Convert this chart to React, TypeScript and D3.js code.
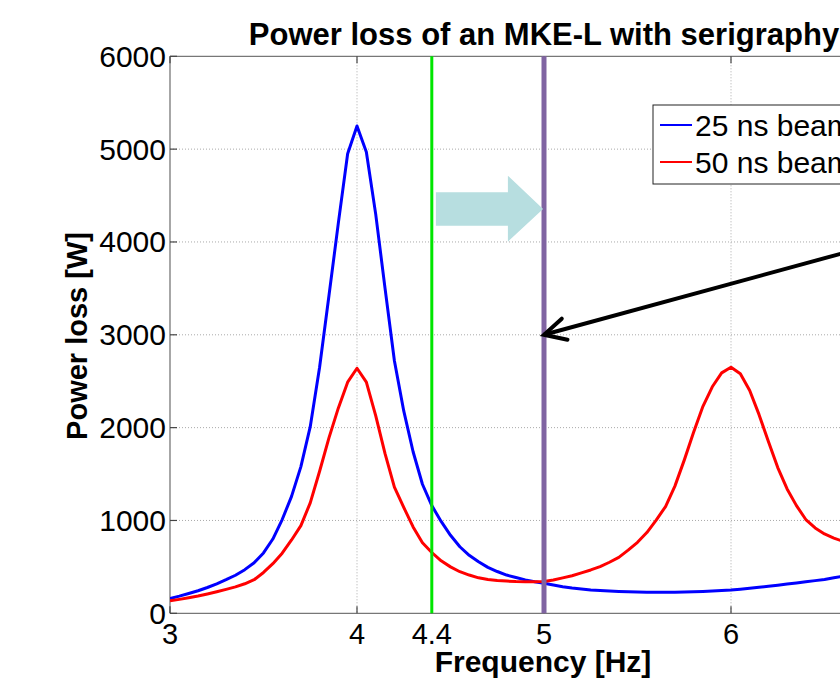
import React from "react";
import * as d3 from "d3";

const freq = [3.0,3.05,3.1,3.15,3.2,3.25,3.3,3.35,3.4,3.45,3.5,3.55,3.6,3.65,3.7,3.75,3.8,3.85,3.9,3.95,4.0,4.05,4.1,4.15,4.2,4.25,4.3,4.35,4.4,4.45,4.5,4.55,4.6,4.65,4.7,4.75,4.8,4.85,4.9,4.95,5.0,5.05,5.1,5.15,5.2,5.25,5.3,5.35,5.4,5.45,5.5,5.55,5.6,5.65,5.7,5.75,5.8,5.85,5.9,5.95,6.0,6.05,6.1,6.15,6.2,6.25,6.3,6.35,6.4,6.45,6.5,6.55,6.6,6.65,6.7,6.75,6.8,6.85,6.9,6.95,7.0];
const beam25 = [160,185,213,243,278,318,362,410,470,545,650,800,1010,1260,1580,2010,2650,3420,4200,4950,5250,4970,4300,3500,2720,2180,1740,1390,1160,990,840,717,625,555,495,450,412,385,360,340,323,304,287,273,262,252,245,239,235,232,230,228,227,227,228,230,232,236,240,245,250,260,270,281,292,303,315,327,340,352,365,382,400,420,440,465,490,520,550,585,620];
const beam50 = [135,150,167,186,208,232,258,285,318,362,440,535,648,790,945,1190,1530,1890,2210,2490,2640,2490,2130,1720,1360,1140,930,760,655,565,500,448,412,382,365,354,347,342,340,340,342,358,382,405,435,467,502,550,602,680,765,870,1004,1150,1370,1650,1950,2230,2440,2590,2650,2580,2400,2140,1850,1570,1340,1160,1010,920,855,810,775,745,715,690,665,645,625,610,595];

const xTicks = [3, 4, 4.4, 5, 6, 7];
const yTicks = [0, 1000, 2000, 3000, 4000, 5000, 6000];
const seriesNames = ["25 ns beam", "50 ns beam"];
const seriesColors = ["#0000ff", "#ff0000"];

const title = "Power loss of an MKE-L with serigraphy";
const xLabel = "Frequency [Hz]";
const yLabel = "Power loss [W]";

// annotation markers (data coordinates)
const greenLineX = 4.4;
const purpleLineX = 5.0;
const arrowFrom = [7.0, 4100];
const arrowTo = [5.0, 3000];
const blockArrow = { x0: 4.422, xNeck: 4.807, xTip: 4.995, yShaftTop: 4535, yShaftBot: 4175, yHeadTop: 4714, yHeadBot: 4003, yTip: 4355 };

export default function App() {
  const W = 840, H = 695;
  const left = 170, right = 918, top = 56.3, bottom = 613.3;
  const x = d3.scaleLinear().domain([3, 7]).range([left, right]);
  const y = d3.scaleLinear().domain([0, 6000]).range([bottom, top]);
  const line = d3.line<number>().x((_, i) => x(freq[i])).y((d) => y(d));
  const font = "'Liberation Sans', Arial, Helvetica, sans-serif";

  const ba = blockArrow;
  const bpts: [number, number][] = [
    [x(ba.x0), y(ba.yShaftTop)], [x(ba.xNeck), y(ba.yShaftTop)], [x(ba.xNeck), y(ba.yHeadTop)],
    [x(ba.xTip), y(ba.yTip)], [x(ba.xNeck), y(ba.yHeadBot)], [x(ba.xNeck), y(ba.yShaftBot)],
    [x(ba.x0), y(ba.yShaftBot)],
  ];

  const tx = x(arrowTo[0]), ty = y(arrowTo[1]);
  const fx = x(arrowFrom[0]), fy = y(arrowFrom[1]);
  const ang = Math.atan2(fy - ty, fx - tx);
  const armLen = 24, armAng = (27 * Math.PI) / 180;
  const a1 = [tx + armLen * Math.cos(ang + armAng), ty + armLen * Math.sin(ang + armAng)];
  const a2 = [tx + armLen * Math.cos(ang - armAng), ty + armLen * Math.sin(ang - armAng)];

  return (
    <svg width={W} height={H} style={{ position: "absolute", left: 0, top: 0, background: "#fff" }} fontFamily={font}>
      <defs>
        <clipPath id="plotclip">
          <rect x={left} y={top} width={right - left} height={bottom - top} />
        </clipPath>
      </defs>
      <rect x={0} y={0} width={W} height={H} fill="#fff" />
      {/* grid */}
      {yTicks.filter((t) => t > 0 && t < 6000).map((t) => (
        <line key={"gy" + t} x1={left} x2={right} y1={y(t)} y2={y(t)} stroke="#aaa" strokeWidth={1} strokeDasharray="1,2" />
      ))}
      {xTicks.filter((t) => t > 3 && t < 7).map((t) => (
        <line key={"gx" + t} x1={x(t)} x2={x(t)} y1={top} y2={bottom} stroke="#aaa" strokeWidth={1} strokeDasharray="1,2" />
      ))}
      {/* axes box */}
      <line x1={left} x2={right} y1={top} y2={top} stroke="#777" strokeWidth={1.3} />
      <line x1={left} x2={right} y1={bottom} y2={bottom} stroke="#777" strokeWidth={1.3} />
      <line x1={left} x2={left} y1={top} y2={bottom} stroke="#777" strokeWidth={1.3} />
      {xTicks.map((t) => (
        <g key={"tx" + t}>
          <line x1={x(t)} x2={x(t)} y1={bottom} y2={bottom - 7} stroke="#444" strokeWidth={1.2} />
          <line x1={x(t)} x2={x(t)} y1={top} y2={top + 7} stroke="#444" strokeWidth={1.2} />
          <text x={x(t)} y={bottom + 31} textAnchor="middle" fontSize={29} fill="#000">{t}</text>
        </g>
      ))}
      {yTicks.map((t) => (
        <g key={"ty" + t}>
          <line x1={left} x2={left + 7} y1={y(t)} y2={y(t)} stroke="#444" strokeWidth={1.2} />
          <text x={left - 4} y={y(t)} textAnchor="end" dominantBaseline="central" fontSize={30} fill="#000">{t}</text>
        </g>
      ))}
      {/* curves */}
      <g clipPath="url(#plotclip)">
        <path d={line(beam25) || ""} fill="none" stroke={seriesColors[0]} strokeWidth={3} strokeLinejoin="round" />
        <path d={line(beam50) || ""} fill="none" stroke={seriesColors[1]} strokeWidth={3} strokeLinejoin="round" />
      </g>
      {/* marker lines */}
      <line x1={x(greenLineX)} x2={x(greenLineX)} y1={top} y2={bottom} stroke="#00e600" strokeWidth={3} />
      <line x1={x(purpleLineX)} x2={x(purpleLineX)} y1={top} y2={bottom} stroke="#8064a2" strokeWidth={5} />
      {/* block arrow */}
      <polygon points={bpts.map((p) => p.join(",")).join(" ")} fill="#b7dee0" />
      {/* black arrow */}
      <line x1={fx} y1={fy} x2={tx} y2={ty} stroke="#000" strokeWidth={4} />
      <polyline points={`${a1[0]},${a1[1]} ${tx},${ty} ${a2[0]},${a2[1]}`} fill="none" stroke="#000" strokeWidth={4} strokeLinecap="round" strokeLinejoin="miter" />
      {/* legend */}
      <rect x={653} y={105} width={300} height={79} fill="#fff" stroke="#222" strokeWidth={1} />
      {seriesNames.map((n, i) => (
        <g key={n}>
          <line x1={660} x2={692} y1={125 + i * 37} y2={125 + i * 37} stroke={seriesColors[i]} strokeWidth={2} />
          <text x={695} y={125 + i * 37} dominantBaseline="central" fontSize={30} fill="#000">{n}</text>
        </g>
      ))}
      {/* titles */}
      <text x={(left + right) / 2} y={45} textAnchor="middle" fontSize={31} fontWeight="bold" fill="#000">{title}</text>
      <text x={(left + right) / 2 - 1} y={672} textAnchor="middle" fontSize={30} fontWeight="bold" fill="#000">{xLabel}</text>
      <text transform={`translate(87,336) rotate(-90)`} textAnchor="middle" fontSize={29} fontWeight="bold" fill="#000">{yLabel}</text>
    </svg>
  );
}
